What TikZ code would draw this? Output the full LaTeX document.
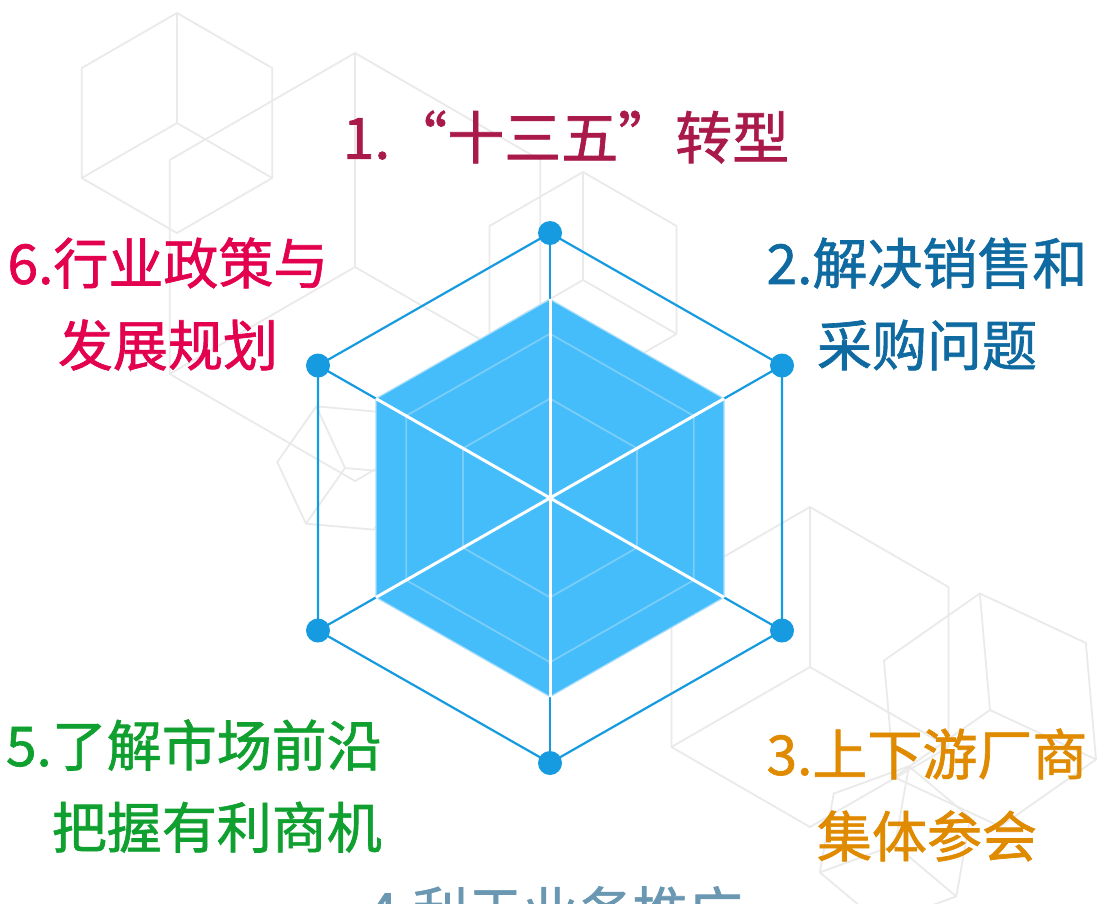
\documentclass[tikz,border=0pt]{standalone}
\usepackage{fontspec}
\newfontfamily\cjk[BoldFont=Noto Sans CJK SC, BoldFeatures={FakeBold=1.2}]{Noto Sans CJK SC}
\usetikzlibrary{calc}

\definecolor{radarblue}{HTML}{179BE0}
\definecolor{radarfill}{HTML}{45BDFB}
\definecolor{radargrid}{HTML}{7ACDF9}
\definecolor{radaredge}{HTML}{A8DEFC}
\definecolor{cubegray}{HTML}{EAEAEA}
\definecolor{labelone}{HTML}{A91A4B}
\definecolor{labeltwo}{HTML}{0E6AA0}
\definecolor{labelthree}{HTML}{E08A00}
\definecolor{labelfour}{HTML}{6A97B1}
\definecolor{labelfive}{HTML}{10A030}
\definecolor{labelsix}{HTML}{E3004F}

\begin{document}
\begin{tikzpicture}[x=1pt, y=-1pt,
    cubeline/.style={cubegray, line width=1.8pt, line join=round},
    axisline/.style={radarblue, line width=2.2pt},
    gridline/.style={radargrid, line width=1.8pt},
    spokeline/.style={white, line width=3pt},
    chartlabel/.style={font=\cjk\fontsize{55}{82}\selectfont\bfseries, align=center, inner sep=0pt},
    bgcube/.pic={
      \draw[cubeline] (0,-100) -- (86.6,-50) -- (86.6,50) -- (0,100) -- (-86.6,50) -- (-86.6,-50) -- cycle;
      \draw[cubeline] (0,-100) -- (0,0) -- (-86.6,50);
      \draw[cubeline] (0,0) -- (86.6,50);
    }]
    \useasboundingbox (0,0) rectangle (1098,903);
    \fill[white] (0,0) rectangle (1098,903);

    % --- background cubes ---
    \pic at (177,123) [scale=1.1] {bgcube};
    \pic at (355,267) [scale=2.14] {bgcube};
    \pic at (583,280) [scale=1.08] {bgcube};
    \pic at (345,468) [scale=0.68, rotate=25] {bgcube};
    \pic at (810,667) [scale=1.6] {bgcube};
    \pic at (990,710) [scale=1.17, rotate=5] {bgcube};
    \pic at (895,845) [scale=0.8, rotate=-10] {bgcube};

    % --- radar axes ---
    \coordinate (c) at (550,498);
    \coordinate (o1) at (550,233);
    \coordinate (o2) at (782,365.5);
    \coordinate (o3) at (782,630.5);
    \coordinate (o4) at (550,763);
    \coordinate (o5) at (318,630.5);
    \coordinate (o6) at (318,365.5);

    \draw[axisline] (o1) -- (o4);
    \draw[axisline] (o2) -- (o5);
    \draw[axisline] (o3) -- (o6);
    \draw[axisline] (o1) -- (o2) -- (o3) -- (o4) -- (o5) -- (o6) -- cycle;

    % value area
    \coordinate (f1) at ($(c)!0.75!(o1)$);
    \coordinate (f2) at ($(c)!0.75!(o2)$);
    \coordinate (f3) at ($(c)!0.75!(o3)$);
    \coordinate (f4) at ($(c)!0.75!(o4)$);
    \coordinate (f5) at ($(c)!0.75!(o5)$);
    \coordinate (f6) at ($(c)!0.75!(o6)$);
    \fill[radarfill, draw=radaredge, line width=1.2pt] (f1) -- (f2) -- (f3) -- (f4) -- (f5) -- (f6) -- cycle;

    % inner split lines
    \draw[gridline] ($(c)!0.375!(o1)$) -- ($(c)!0.375!(o2)$) -- ($(c)!0.375!(o3)$) -- ($(c)!0.375!(o4)$) -- ($(c)!0.375!(o5)$) -- ($(c)!0.375!(o6)$) -- cycle;
    \draw[gridline] ($(c)!0.62!(o1)$) -- ($(c)!0.62!(o2)$) -- ($(c)!0.62!(o3)$) -- ($(c)!0.62!(o4)$) -- ($(c)!0.62!(o5)$) -- ($(c)!0.62!(o6)$) -- cycle;

    \draw[spokeline] (f1) -- (f4);
    \draw[spokeline] (f2) -- (f5);
    \draw[spokeline] (f3) -- (f6);

    \fill[radarblue] (o1) circle (12pt);
    \fill[radarblue] (o2) circle (12pt);
    \fill[radarblue] (o3) circle (12pt);
    \fill[radarblue] (o4) circle (12pt);
    \fill[radarblue] (o5) circle (12pt);
    \fill[radarblue] (o6) circle (12pt);

    % --- labels ---
    \node[chartlabel, text=labelone, font=\cjk\fontsize{57}{82}\selectfont\bfseries] (l1) at (566,137) {1.“十三五”转型};
    \node[chartlabel, text=labeltwo] (l2) at (927,304) {2.解决销售和\\采购问题};
    \node[chartlabel, text=labelthree] (l3) at (927,795) {3.上下游厂商\\集体参会};
    \node[chartlabel, text=labelfour] (l4) at (555,912) {4.利于业务推广};
    \node[chartlabel, text=labelfive, align=right, anchor=east] (l5) at (382,786) {5.了解市场前沿\\把握有利商机};
    \node[chartlabel, text=labelsix] (l6) at (168,304) {6.行业政策与\\发展规划};
\end{tikzpicture}
\end{document}
